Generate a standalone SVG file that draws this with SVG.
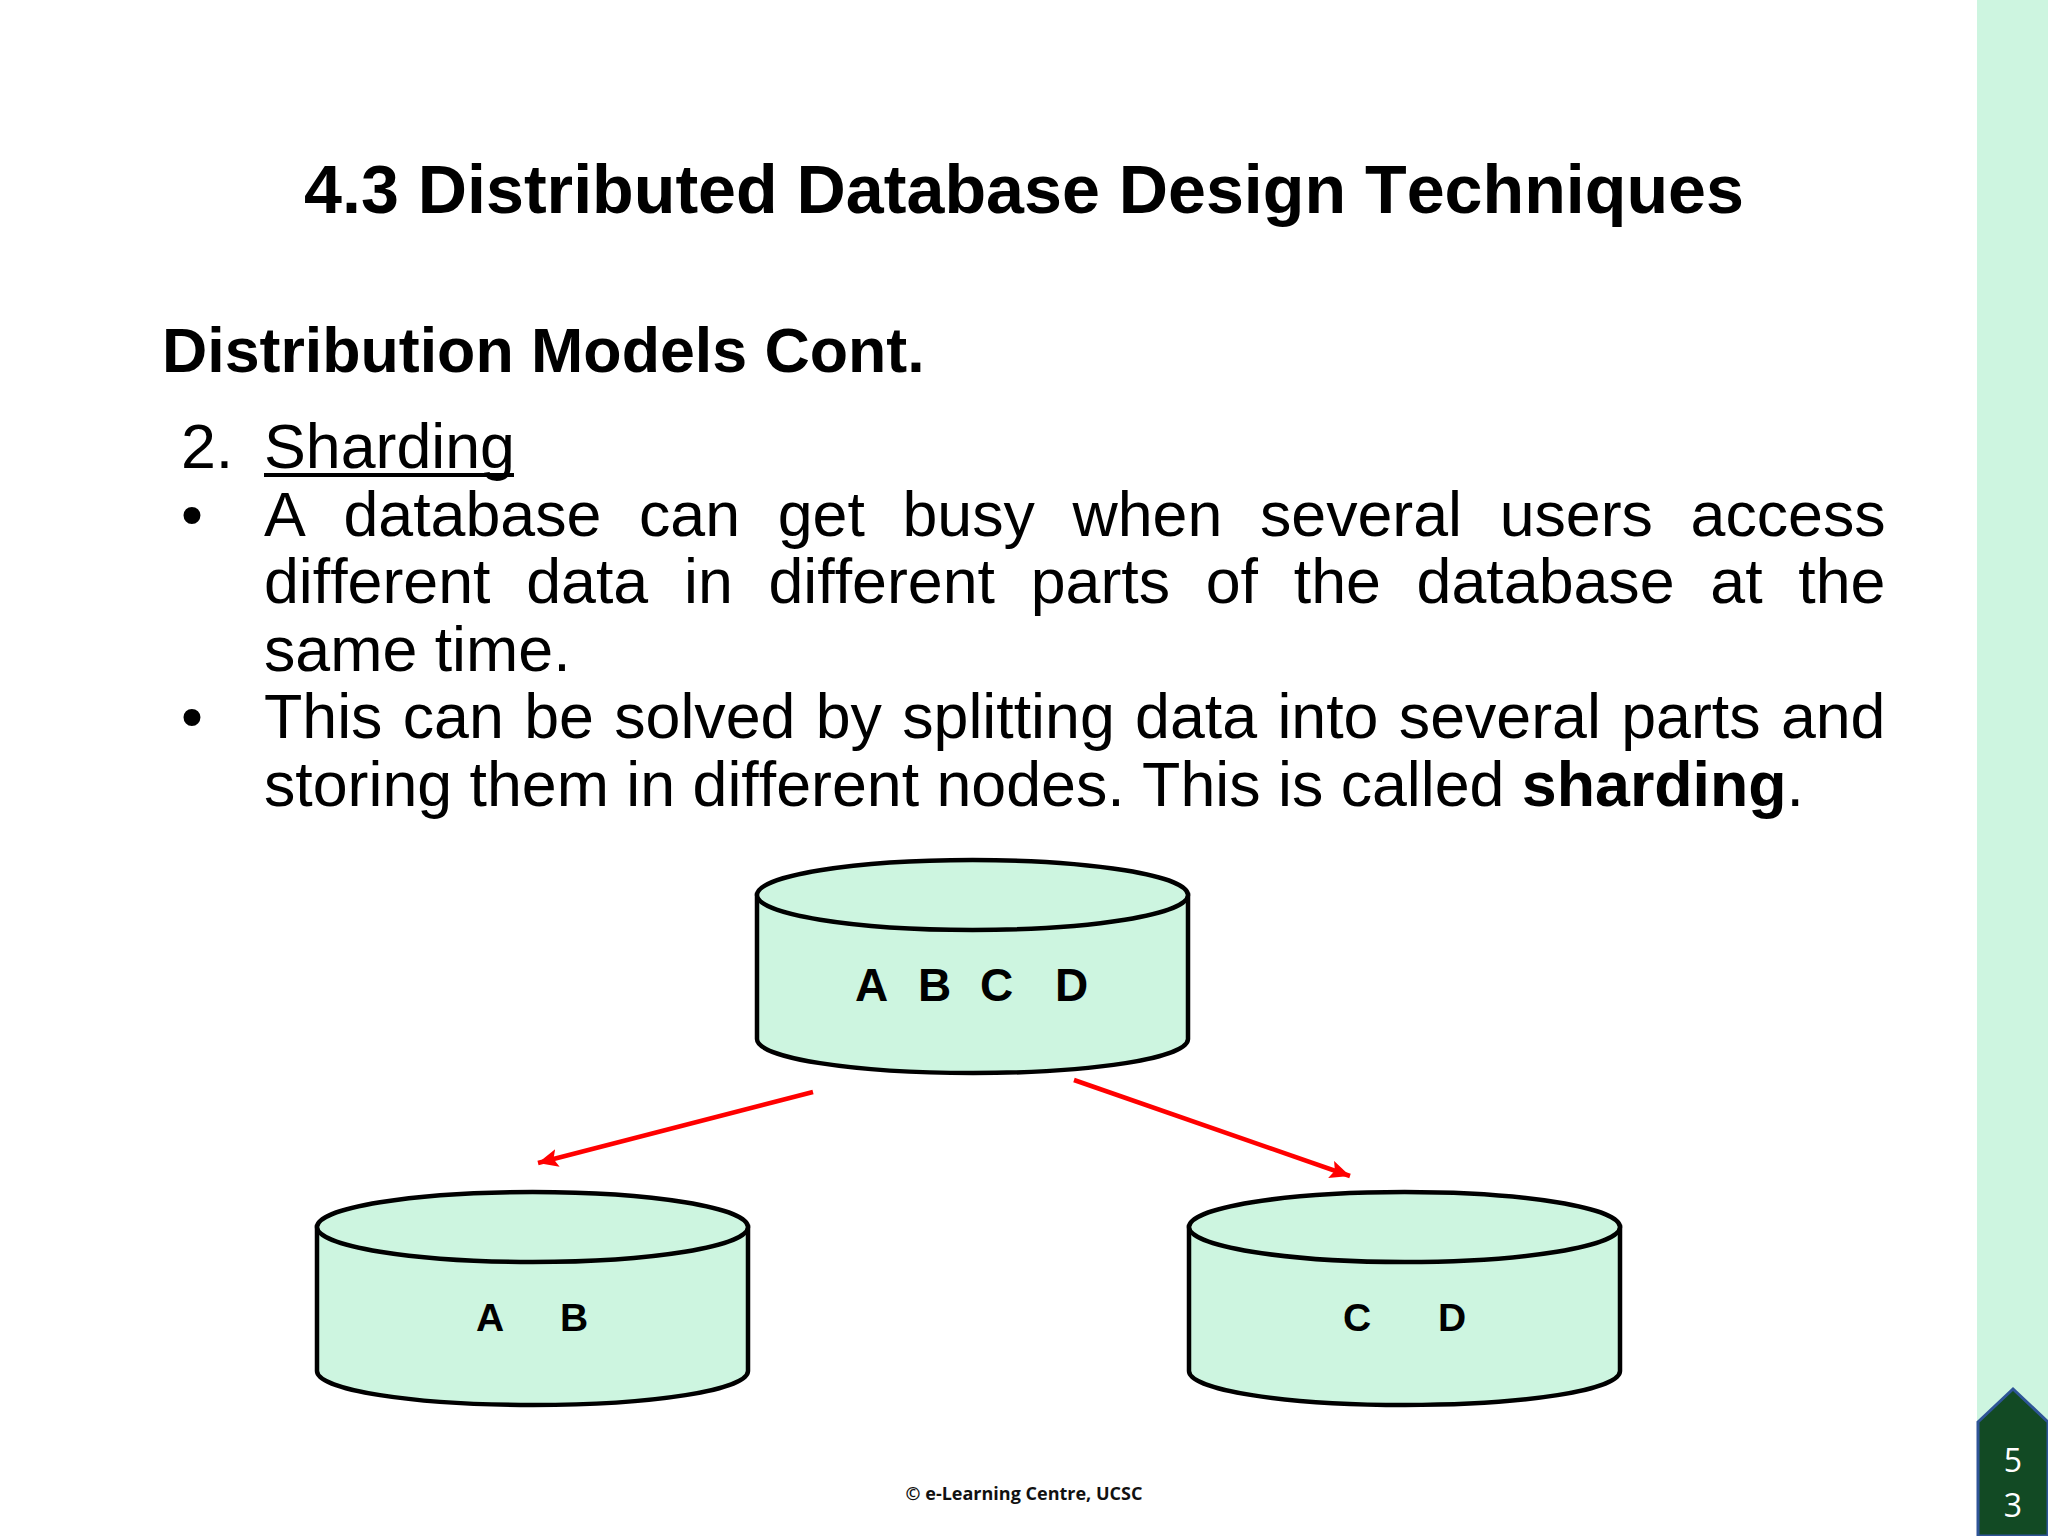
<svg xmlns="http://www.w3.org/2000/svg" width="2048" height="1536" viewBox="0 0 2048 1536">
<style>
text{font-family:"Liberation Sans",Arial,sans-serif;fill:#000;font-variant-ligatures:none;font-kerning:none}
.b{font-size:62.7px}
.h{font-weight:bold}
.cyl{fill:#cdf5e0;stroke:#000;stroke-width:4.5}
.lab{font-weight:bold;font-size:46px}
.lab2{font-weight:bold;font-size:39px}
.arr{stroke:#f00;stroke-width:4.5;fill:none;marker-end:url(#ah)}
</style>
<defs>
<marker id="ah" markerUnits="userSpaceOnUse" markerWidth="22" markerHeight="20" refX="20" refY="9" orient="auto"><path d="M0 0L20 9L0 18L4 9Z" fill="#f00"/></marker>
<g id="cyl"><path class="cyl" d="M0 0V144C0 163 96 178 216 178S431 163 431 144V0Z"/><ellipse class="cyl" cx="215.500" cy="0" rx="215.500" ry="35"/></g>
</defs>
<rect x="1977" y="0" width="71" height="1536" fill="#cdf5e0"/>
<g id="page">
<path d="M1978 1422L2013 1389L2048 1422V1536H1978Z" fill="#124a24" stroke="#2f5597" stroke-width="3"/>
<text x="2013" y="1472" text-anchor="middle" style="font-family:'Open Sans',sans-serif;font-size:32px;fill:#fff">5</text>
<text x="2013" y="1517" text-anchor="middle" style="font-family:'Open Sans',sans-serif;font-size:32px;fill:#fff">3</text>
</g>
<text id="title" x="1024" y="213" text-anchor="middle" class="h" font-size="68.200">4.3 Distributed Database Design Techniques</text>
<text id="sub" x="162" y="372" class="h" font-size="62.700">Distribution Models Cont.</text>
<text class="b" x="181" y="468">2.</text>
<text class="b" x="264" y="468">Sharding</text>
<rect x="264" y="473" width="250" height="4"/>
<text class="b" x="181" y="535.500">•</text>
<text class="b" x="264" y="535.500" word-spacing="20.200">A database can get busy when several users access</text>
<text class="b" x="264" y="603" word-spacing="18.300">different data in different parts of the database at the</text>
<text class="b" x="264" y="670.500">same time.</text>
<text class="b" x="181" y="738">•</text>
<text class="b" x="264" y="738" word-spacing="2.900">This can be solved by splitting data into several parts and</text>
<text class="b" x="264" y="805.500">storing them in different nodes. This is called <tspan class="h">sharding</tspan>.</text>
<g id="connectors">
<path class="arr" d="M813 1092L538 1163"/>
<path class="arr" d="M1074 1080L1350 1176"/>
</g>
<g id="node-abcd"><use href="#cyl" x="757" y="895"/><text class="lab" x="855" y="1001">A</text><text class="lab" x="918" y="1001">B</text><text class="lab" x="980" y="1001">C</text><text class="lab" x="1055" y="1001">D</text></g>
<g id="node-ab"><use href="#cyl" x="317" y="1227"/><text class="lab2" x="476" y="1331">A</text><text class="lab2" x="560" y="1331">B</text></g>
<g id="node-cd"><use href="#cyl" x="1189" y="1227"/><text class="lab2" x="1343" y="1331">C</text><text class="lab2" x="1438" y="1331">D</text></g>
<text id="footer" x="1024" y="1500" text-anchor="middle" style="font-family:'Open Sans',sans-serif;font-weight:bold;font-size:18px;fill:#111">© e-Learning Centre, UCSC</text>
</svg>
